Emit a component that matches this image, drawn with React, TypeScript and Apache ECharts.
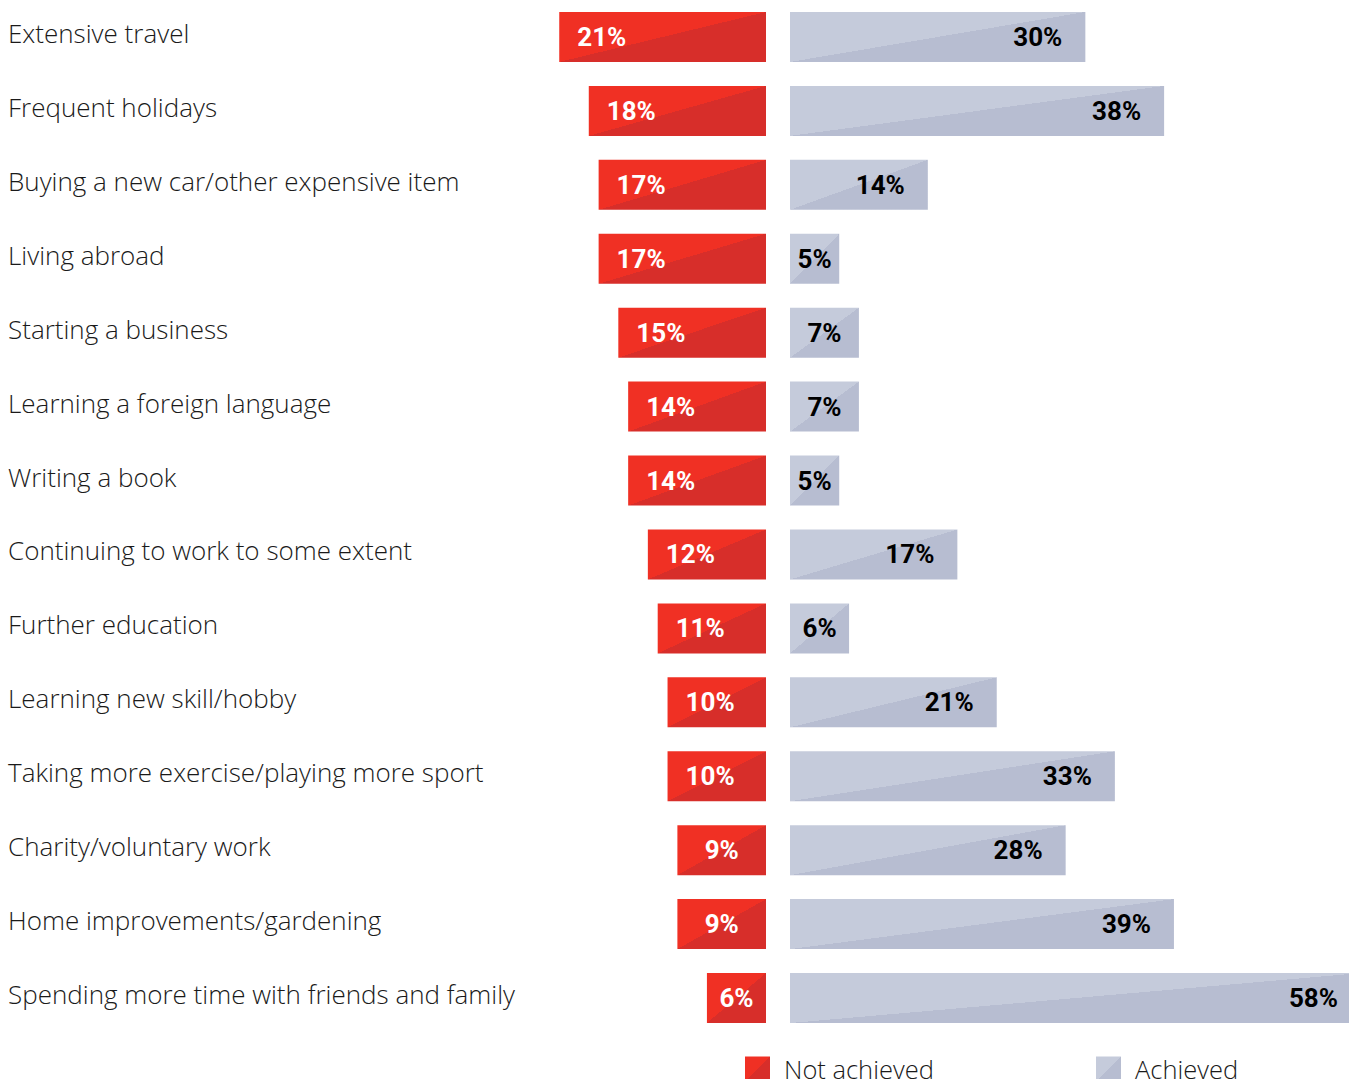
import React, { useEffect, useRef } from "react";
import * as echarts from "echarts";

const categories = [
  "Extensive travel",
  "Frequent holidays",
  "Buying a new car/other expensive item",
  "Living abroad",
  "Starting a business",
  "Learning a foreign language",
  "Writing a book",
  "Continuing to work to some extent",
  "Further education",
  "Learning new skill/hobby",
  "Taking more exercise/playing more sport",
  "Charity/voluntary work",
  "Home improvements/gardening",
  "Spending more time with friends and family",
];
const notAchieved = [21, 18, 17, 17, 15, 14, 14, 12, 11, 10, 10, 9, 9, 6];
const achieved = [30, 38, 14, 5, 7, 7, 5, 17, 6, 21, 33, 28, 39, 58];

const RED_LIGHT = "#F03024";
const RED_DARK = "#D72E2A";
const GREY_LIGHT = "#C5CBDB";
const GREY_DARK = "#B7BDD1";
const TEXT_FONT = "Open Sans";

function split(light: string, dark: string) {
  return new echarts.graphic.LinearGradient(0, 0, 1, 1, [
    { offset: 0, color: light },
    { offset: 0.5, color: light },
    { offset: 0.5, color: dark },
    { offset: 1, color: dark },
  ]);
}

export default function App() {
  const ref = useRef<HTMLDivElement>(null);
  useEffect(() => {
    document.body.style.margin = "0";
    document.body.style.overflow = "hidden";
    const chart = echarts.init(ref.current!, null, { renderer: "svg" });
    const labelFont = {
      fontFamily: "Roboto",
      fontWeight: 700 as const,
      fontSize: 26,
    };
    const redData = notAchieved.map((v) => ({
      value: v,
      label:
        v < 10
          ? { position: "inside" as const }
          : { position: "insideLeft" as const, distance: 18 },
    }));
    const greyData = achieved.map((v) => ({
      value: v,
      label:
        v < 10
          ? { position: "inside" as const }
          : { position: "insideRight" as const, distance: 23 },
    }));
    const hiddenAxis = {
      axisLine: { show: false },
      axisTick: { show: false },
      splitLine: { show: false },
      axisLabel: { show: false },
    };
    const legendText = {
      fontFamily: TEXT_FONT,
      fontWeight: 300 as const,
      fontSize: 25.5,
      color: "#1a1a1a",
      padding: [0, 0, 0, 9],
    };
    chart.setOption({
      animation: false,
      backgroundColor: "#ffffff",
      grid: [
        { left: 0, width: 766, top: 0, height: 1035 },
        { left: 790, right: 0, top: 0, height: 1035 },
      ],
      xAxis: [
        { type: "value", gridIndex: 0, min: 0, max: 77.8, inverse: true, ...hiddenAxis },
        { type: "value", gridIndex: 1, min: 0, max: 56.78, ...hiddenAxis },
      ],
      yAxis: [
        {
          type: "category",
          gridIndex: 0,
          data: categories,
          inverse: true,
          position: "left",
          axisLine: { show: false },
          axisTick: { show: false },
          splitLine: { show: false },
          axisLabel: {
            show: true,
            align: "left",
            verticalAlign: "bottom",
            lineHeight: 8,
            margin: -8,
            fontFamily: TEXT_FONT,
            fontWeight: 300,
            fontSize: 26,
            color: "#1a1a1a",
          },
        },
        {
          type: "category",
          gridIndex: 1,
          data: categories,
          inverse: true,
          ...hiddenAxis,
        },
      ],
      legend: [
        {
          data: ["Not achieved"],
          left: 745,
          top: 1056,
          itemWidth: 25,
          itemHeight: 25,
          icon: "rect",
          padding: 0,
          textStyle: legendText,
        },
        {
          data: ["Achieved"],
          left: 1096,
          top: 1056,
          itemWidth: 25,
          itemHeight: 25,
          icon: "rect",
          padding: 0,
          textStyle: legendText,
        },
      ],
      series: [
        {
          name: "Not achieved",
          type: "bar",
          xAxisIndex: 0,
          yAxisIndex: 0,
          barWidth: 50,
          data: redData,
          itemStyle: { color: split(RED_LIGHT, RED_DARK) },
          label: {
            show: true,
            formatter: "{c}%",
            color: "#ffffff",
            ...labelFont,
          },
        },
        {
          name: "Achieved",
          type: "bar",
          xAxisIndex: 1,
          yAxisIndex: 1,
          barWidth: 50,
          clip: false,
          data: greyData,
          itemStyle: { color: split(GREY_LIGHT, GREY_DARK) },
          label: {
            show: true,
            formatter: "{c}%",
            color: "#000000",
            ...labelFont,
          },
        },
      ],
    });
    return () => chart.dispose();
  }, []);
  return <div ref={ref} style={{ width: 1349, height: 1079 }} />;
}
